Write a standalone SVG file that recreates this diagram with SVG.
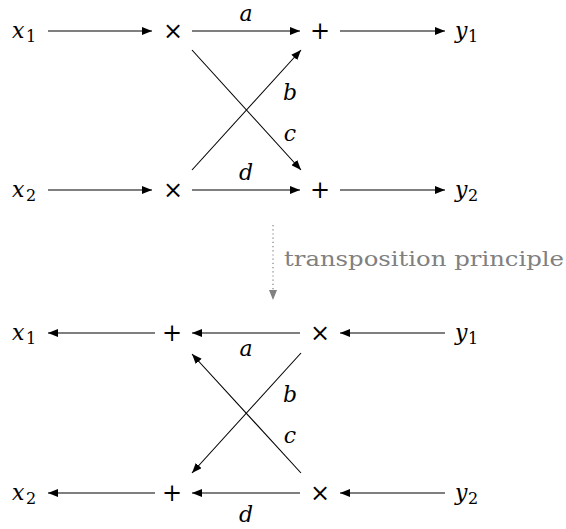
<svg xmlns="http://www.w3.org/2000/svg" width="566" height="529" viewBox="0 0 566 529">
<style>
.v{font-family:"DejaVu Serif",serif;font-style:italic;font-size:22px;fill:#000}
.s{font-family:"DejaVu Serif",serif;font-size:16px;fill:#000}
.op{font-family:"DejaVu Serif",serif;font-size:24px;fill:#000;text-anchor:middle}
.lb{font-family:"DejaVu Serif",serif;font-style:italic;font-size:22px;fill:#000;text-anchor:middle}
.e{stroke:#000;stroke-width:1.1;fill:none;marker-end:url(#ah)}
.g{fill:#808080;font-family:"DejaVu Serif",serif;font-size:20px}
</style>
<defs>
<marker id="ah" viewBox="0 0 10 8" refX="10" refY="4" markerWidth="10" markerHeight="8" markerUnits="userSpaceOnUse" orient="auto">
<path d="M0,0 L10,4 L0,8 z" fill="#000"/>
</marker>
<marker id="ahg" viewBox="0 0 10 8" refX="10" refY="4" markerWidth="10" markerHeight="8" markerUnits="userSpaceOnUse" orient="auto">
<path d="M0,0 L10,4 L0,8 z" fill="#808080"/>
</marker>
</defs>
<g id="top">
<g id="tx1"><text class="v" x="12" y="38">x</text><text class="s" x="26" y="42">1</text></g>
<g id="tx2"><text class="v" x="12" y="197">x</text><text class="s" x="26" y="201">2</text></g>
<g id="tm1"><text class="op" x="173" y="39">×</text></g>
<g id="tm2"><text class="op" x="173" y="198">×</text></g>
<g id="tp1"><text class="op" x="320" y="39">+</text></g>
<g id="tp2"><text class="op" x="320" y="198">+</text></g>
<g id="ty1"><text class="v" x="455" y="38">y</text><text class="s" x="468" y="42">1</text></g>
<g id="ty2"><text class="v" x="455" y="197">y</text><text class="s" x="468" y="201">2</text></g>
</g>
<g id="bottom">
<g id="bx1"><text class="v" x="12" y="340">x</text><text class="s" x="26" y="344">1</text></g>
<g id="bx2"><text class="v" x="12" y="500">x</text><text class="s" x="26" y="504">2</text></g>
<g id="bp1"><text class="op" x="172" y="341">+</text></g>
<g id="bp2"><text class="op" x="172" y="501">+</text></g>
<g id="bm1"><text class="op" x="320" y="341">×</text></g>
<g id="bm2"><text class="op" x="320" y="501">×</text></g>
<g id="by1"><text class="v" x="455" y="340">y</text><text class="s" x="468" y="344">1</text></g>
<g id="by2"><text class="v" x="455" y="500">y</text><text class="s" x="468" y="504">2</text></g>
</g>
<g id="connectors">
<line class="e" x1="48" y1="31" x2="152" y2="31"/>
<line class="e" x1="192" y1="31" x2="300" y2="31"/>
<line class="e" x1="340" y1="31" x2="445" y2="31"/>
<line class="e" x1="48" y1="190" x2="152" y2="190"/>
<line class="e" x1="192" y1="190" x2="300" y2="190"/>
<line class="e" x1="340" y1="190" x2="445" y2="190"/>
<line class="e" x1="192" y1="50" x2="301" y2="170"/>
<line class="e" x1="192" y1="170" x2="301" y2="50"/>
<line class="e" x1="155" y1="333" x2="48" y2="333"/>
<line class="e" x1="300" y1="333" x2="192" y2="333"/>
<line class="e" x1="445" y1="333" x2="340" y2="333"/>
<line class="e" x1="155" y1="493" x2="48" y2="493"/>
<line class="e" x1="300" y1="493" x2="192" y2="493"/>
<line class="e" x1="445" y1="493" x2="340" y2="493"/>
<line class="e" x1="301" y1="353" x2="192" y2="473"/>
<line class="e" x1="301" y1="473" x2="192" y2="354"/>
<line x1="273" y1="225" x2="273" y2="300" stroke="#808080" stroke-width="1.2" stroke-dasharray="1.2,3" marker-end="url(#ahg)"/>
</g>
<g id="labels">
<text class="lb" x="246" y="21">a</text>
<text class="lb" x="290" y="100">b</text>
<text class="lb" x="290" y="141">c</text>
<text class="lb" x="246" y="180">d</text>
<text class="lb" x="246" y="356">a</text>
<text class="lb" x="290" y="402">b</text>
<text class="lb" x="290" y="443">c</text>
<text class="lb" x="246" y="522">d</text>
<text class="g" x="284" y="266" textLength="280" lengthAdjust="spacingAndGlyphs">transposition principle</text>
</g>
</svg>
